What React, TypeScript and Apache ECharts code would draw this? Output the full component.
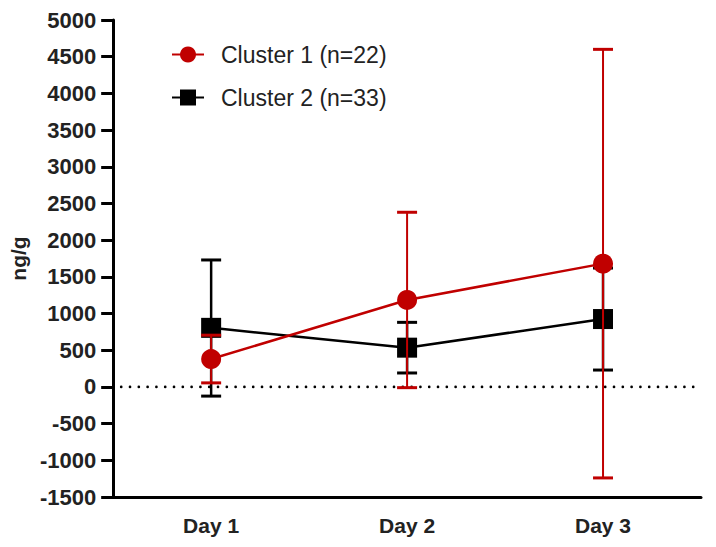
import React, { useEffect, useRef } from "react";
import * as echarts from "echarts";

const categories = ["Day 1", "Day 2", "Day 3"];
const cluster1Name = "Cluster 1 (n=22)";
const cluster2Name = "Cluster 2 (n=33)";
const cluster1Mean = [380, 1185, 1680];
const cluster1Low = [55, -10, -1240];
const cluster1High = [705, 2380, 4600];
const cluster2Mean = [805, 535, 925];
const cluster2Low = [-125, 190, 230];
const cluster2High = [1730, 880, 1620];
const referenceLine = [0];

const RED = "#c00000";
const BLACK = "#000000";

function errorSeries(name: string, low: number[], high: number[], color: string, z: number, width: number) {
  return {
    type: "custom",
    name: name + "-err",
    z,
    silent: true,
    data: low.map((l, i) => [i, l, high[i]]),
    renderItem: (params: any, api: any) => {
      const x = api.value(0);
      const lo = api.coord([x, api.value(1)]);
      const hi = api.coord([x, api.value(2)]);
      const hw = 10;
      const style = { stroke: color, lineWidth: width, fill: "none" };
      return {
        type: "group",
        children: [
          { type: "line", shape: { x1: lo[0], y1: lo[1], x2: hi[0], y2: hi[1] }, style },
          { type: "line", shape: { x1: lo[0] - hw, y1: lo[1], x2: lo[0] + hw, y2: lo[1] }, style: { ...style, lineWidth: 3 } },
          { type: "line", shape: { x1: hi[0] - hw, y1: hi[1], x2: hi[0] + hw, y2: hi[1] }, style: { ...style, lineWidth: 3 } },
        ],
      };
    },
  };
}

export default function App() {
  const ref = useRef<HTMLDivElement>(null);
  useEffect(() => {
    if (!ref.current) return;
    const chart = echarts.init(ref.current, undefined, { renderer: "svg" });
    const font = "Arial, 'Liberation Sans', sans-serif";
    chart.setOption({
      animation: false,
      backgroundColor: "#ffffff",
      textStyle: { fontFamily: font },
      grid: { left: 107, right: 15, top: 20, bottom: 50 },
      legend: {
        orient: "vertical",
        left: 166,
        top: 38,
        itemWidth: 32,
        itemHeight: 20,
        itemGap: 20,
        data: [cluster1Name, cluster2Name],
        textStyle: { fontSize: 23, color: "#222", fontFamily: font, padding: [0, 0, 0, 12] },
      },
      xAxis: {
        type: "category",
        data: categories,
        boundaryGap: true,
        axisLine: { onZero: false, lineStyle: { color: BLACK, width: 3 } },
        axisTick: { alignWithLabel: true, length: 12, lineStyle: { width: 3, color: BLACK } },
        axisLabel: { fontSize: 21, fontWeight: "bold", color: "#222", margin: 18, fontFamily: font },
        splitLine: { show: false },
      },
      yAxis: {
        type: "value",
        min: -1500,
        max: 5000,
        interval: 500,
        name: "ng/g",
        nameLocation: "middle",
        nameGap: 83,
        nameRotate: 90,
        nameTextStyle: { fontSize: 21, fontWeight: "bold", color: "#222", fontFamily: font },
        axisLine: { show: true, onZero: false, lineStyle: { color: BLACK, width: 3 } },
        axisTick: { show: true, length: 12, lineStyle: { width: 3, color: BLACK } },
        axisLabel: {
          fontSize: 22,
          fontWeight: "bold",
          color: "#222",
          margin: 17,
          fontFamily: font,
          formatter: (v: number) => String(v),
        },
        splitLine: { show: false },
      },
      series: [
        {
          type: "custom",
          name: "zero-line",
          z: 0,
          silent: true,
          data: referenceLine.map((v) => [v]),
          renderItem: (params: any, api: any) => {
            const cs = params.coordSys;
            const y = api.coord([0, api.value(0)])[1];
            return {
              type: "line",
              shape: { x1: cs.x + 8, y1: y, x2: cs.x + cs.width, y2: y },
              style: { stroke: BLACK, lineWidth: 2.6, lineDash: [0.1, 8.7], lineCap: "round" },
            };
          },
        },
        errorSeries(cluster2Name, cluster2Low, cluster2High, BLACK, 1, 2.5),
        {
          type: "line",
          name: cluster2Name,
          z: 2,
          data: cluster2Mean,
          symbol: "rect",
          symbolSize: 20,
          itemStyle: { color: BLACK },
          lineStyle: { color: BLACK, width: 2.5 },
        },
        errorSeries(cluster1Name, cluster1Low, cluster1High, RED, 5, 2),
        {
          type: "line",
          name: cluster1Name,
          z: 6,
          data: cluster1Mean,
          symbol: "circle",
          symbolSize: 20,
          itemStyle: { color: RED },
          lineStyle: { color: RED, width: 2.5 },
        },
      ],
    });
    return () => chart.dispose();
  }, []);
  return <div ref={ref} style={{ width: 716, height: 547, position: "absolute", left: 0, top: 0 }} />;
}
